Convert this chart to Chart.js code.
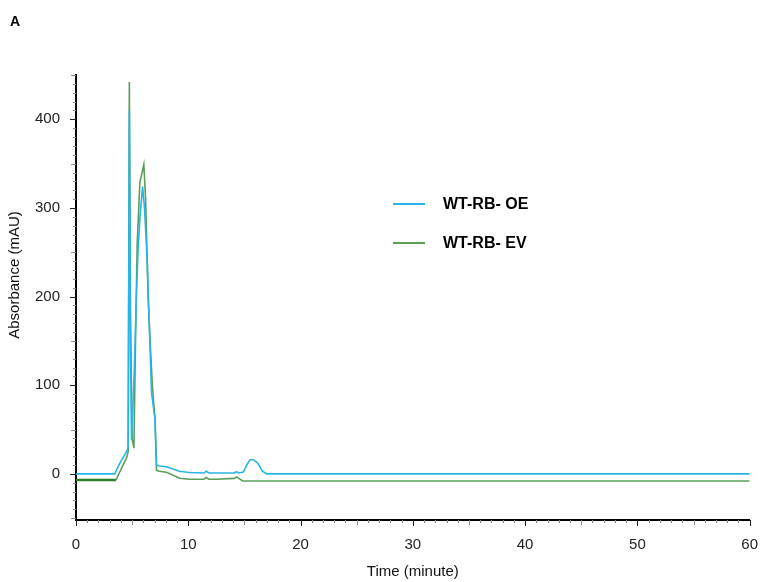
<!DOCTYPE html>
<html>
<head>
<meta charset="utf-8">
<script src="https://cdn.jsdelivr.net/npm/chart.js@4"></script>
<style>
  html, body { margin: 0; padding: 0; background: #fff; }
  #wrap { width: 766px; height: 582px; position: relative; }
</style>
</head>
<body>
<div id="wrap"><canvas id="chroma"></canvas></div>
<script>
// Chromatogram traces, time in minutes, absorbance in mAU
const timeOE = [0, 3.45, 3.9, 4.5, 4.65, 4.75, 4.85, 4.95, 5.2, 5.39, 5.54, 5.7, 5.93, 6.1, 6.34, 6.55, 6.73, 6.9, 7.02, 7.17, 7.4, 8.06, 9.2, 10.1, 11.4, 11.6, 11.85, 12.5, 14.1, 14.3, 14.5, 14.9, 15.2, 15.5, 15.8, 16.2, 16.6, 17.0, 60];
const valOE  = [0, 0, 12, 25, 30, 410, 150, 38, 120, 204, 256, 290, 324, 300, 241, 160, 91, 75, 63, 10, 9, 8, 3, 1.5, 1, 3, 1, 1, 1, 2.5, 1, 2, 10, 16, 16, 12, 3, 0, 0];

const timeEV = [0, 3.56, 4.0, 4.5, 4.65, 4.75, 4.85, 5.0, 5.16, 5.3, 5.45, 5.69, 6.04, 6.2, 6.43, 6.6, 6.8, 6.95, 7.05, 7.17, 7.4, 8.06, 9.24, 10.1, 11.4, 11.6, 11.85, 12.5, 14.1, 14.3, 14.5, 14.85, 60];
const valEV  = [-7, -7, 5, 18, 25, 442, 180, 40, 29, 150, 260, 329, 349, 310, 196, 150, 100, 75, 60, 4, 3, 1.9, -5, -6, -6, -4, -6, -6, -5, -3.5, -5, -8, -8];

const seriesNames = ['WT-RB- OE', 'WT-RB- EV'];
const seriesColors = ['#27b4e6', '#5a9e5a'];

const xTicks = [0, 10, 20, 30, 40, 50, 60];
const yTicks = [0, 100, 200, 300, 400];

const toPoints = (xs, ys) => xs.map((x, i) => ({x: x, y: ys[i]}));

// tick marks (major + minor) drawn along both axes
const axisTicks = {
  id: 'axisTicks',
  afterDraw(chart) {
    const {ctx, scales: {x, y}, chartArea: area} = chart;
    ctx.save();
    ctx.lineWidth = 1;
    for (let v = -50; v <= 450; v += 10) {
      const py = Math.round(y.getPixelForValue(v)) + 0.5;
      const len = v % 100 === 0 ? 6 : (v % 50 === 0 ? 5 : 3);
      ctx.strokeStyle = v % 100 === 0 ? '#222' : '#888';
      ctx.beginPath();
      ctx.moveTo(area.left - len, py);
      ctx.lineTo(area.left, py);
      ctx.stroke();
    }
    for (let v = 0; v <= 60; v += 1) {
      const px = Math.round(x.getPixelForValue(v)) + 0.5;
      const len = v % 10 === 0 ? 6 : (v % 5 === 0 ? 5 : 3);
      ctx.strokeStyle = v % 10 === 0 ? '#222' : '#888';
      ctx.beginPath();
      ctx.moveTo(px, area.bottom);
      ctx.lineTo(px, area.bottom + len);
      ctx.stroke();
    }
    ctx.restore();
  }
};

// panel letter, y-axis title and the in-plot legend
const labels = {
  id: 'labels',
  afterDraw(chart) {
    const ctx = chart.ctx;
    ctx.save();
    ctx.fillStyle = '#000';
    ctx.font = 'bold 14px "Liberation Sans", Arial, sans-serif';
    ctx.textBaseline = 'middle';
    ctx.textAlign = 'left';
    ctx.fillText('A', 10, 22);

    ctx.save();
    ctx.translate(15, 275);
    ctx.rotate(-Math.PI / 2);
    ctx.textAlign = 'center';
    ctx.fillStyle = '#111';
    ctx.font = '15px "Liberation Sans", Arial, sans-serif';
    ctx.fillText('Absorbance (mAU)', 0, 0);
    ctx.restore();

    const rows = [205, 244];
    chart.data.datasets.forEach((ds, i) => {
      ctx.strokeStyle = ds.borderColor;
      ctx.lineWidth = 2;
      ctx.beginPath();
      ctx.moveTo(393, rows[i] - 1);
      ctx.lineTo(425, rows[i] - 1);
      ctx.stroke();
      ctx.fillStyle = '#000';
      ctx.font = 'bold 16px "Liberation Sans", Arial, sans-serif';
      ctx.fillText(ds.label, 443, rows[i]);
    });
    ctx.restore();
  }
};

new Chart(document.getElementById('chroma'), {
  type: 'line',
  data: {
    datasets: [{
      label: seriesNames[0],
      data: toPoints(timeOE, valOE),
      borderColor: seriesColors[0],
      borderWidth: 1.6,
      pointRadius: 0,
      tension: 0
    }, {
      label: seriesNames[1],
      data: toPoints(timeEV, valEV),
      borderColor: seriesColors[1],
      borderWidth: 1.6,
      pointRadius: 0,
      tension: 0,
      segment: {
        // darker stub at the start of the run
        borderColor: c => c.p0.parsed.x < 1 ? '#2f7d2f' : undefined,
        borderWidth: c => c.p0.parsed.x < 1 ? 2.5 : undefined
      }
    }]
  },
  options: {
    responsive: true,
    maintainAspectRatio: false,
    animation: false,
    layout: { padding: { top: 75, right: 15, bottom: 0, left: 0 } },
    plugins: {
      legend: { display: false },
      tooltip: { enabled: false }
    },
    scales: {
      x: {
        type: 'linear',
        min: 0,
        max: 60,
        afterFit: s => { s.height = 62; },
        afterBuildTicks: s => { s.ticks = xTicks.map(v => ({value: v})); },
        grid: { display: false },
        border: { display: true, color: '#000', width: 2 },
        ticks: {
          padding: 8,
          color: '#222',
          font: { family: '"Liberation Sans", Arial, sans-serif', size: 15 },
          maxRotation: 0
        },
        title: {
          display: true,
          text: 'Time (minute)',
          color: '#111',
          font: { family: '"Liberation Sans", Arial, sans-serif', size: 15 },
          padding: { top: 0, bottom: 1 }
        }
      },
      y: {
        min: -52,
        max: 450,
        afterFit: s => { s.width = 76; },
        afterBuildTicks: s => { s.ticks = yTicks.map(v => ({value: v})); },
        grid: { display: false },
        border: { display: true, color: '#000', width: 2 },
        ticks: {
          padding: 8,
          color: '#222',
          font: { family: '"Liberation Sans", Arial, sans-serif', size: 15 }
        }
      }
    }
  },
  plugins: [axisTicks, labels]
});
</script>
</body>
</html>
